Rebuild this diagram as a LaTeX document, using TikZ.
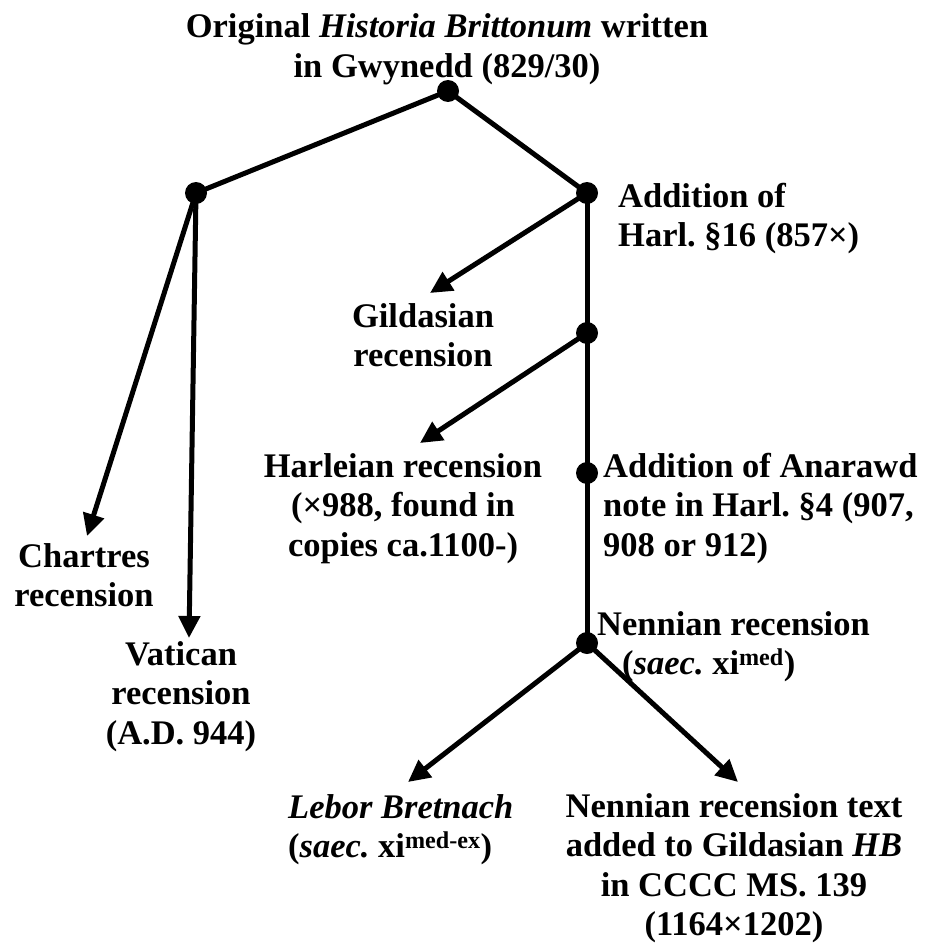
\documentclass[tikz,border=0pt]{standalone}
\usepackage{fontspec}
\setmainfont{Liberation Serif}
\usetikzlibrary{arrows.meta}
\frenchspacing
\newcommand\ctrlines[1]{\vtop{\halign{\hfil##\hfil\cr#1\crcr}}}
\newcommand\lftlines[1]{\vtop{\halign{##\hfil\cr#1\crcr}}}
\tikzset{
  lbl/.style={inner sep=0pt, font=\fontsize{34.5}{39.5}\selectfont\bfseries\frenchspacing},
  dot/.style={circle, fill=black, inner sep=0pt, minimum size=22pt},
  link/.style={line width=5pt, line cap=round},
  arr/.style={line width=5pt, -{Triangle[length=22pt,width=21pt]}},
}
\begin{document}
\begin{tikzpicture}[x=1pt,y=-1pt]
\useasboundingbox (0,0) rectangle (935,947);
% dots
\node[dot] (root) at (448,91) {};
\node[dot] (L) at (196,193) {};
\node[dot] (R) at (587,193) {};
\node[dot] (G) at (587,333) {};
\node[dot] (A) at (587,473) {};
\node[dot] (N) at (587,643) {};
% arrow ends
\coordinate (tChartres) at (87,536);
\coordinate (tVatican) at (189,638);
\coordinate (tGildas) at (430,293);
\coordinate (tHarl) at (420,443);
\coordinate (tLebor) at (408,782);
\coordinate (tCCCC) at (738,782);
% links
\draw[link] (L.center) -- (root.center) -- (R.center);
\draw[link] (R.center) -- (G.center) -- (A.center) -- (N.center);
\draw[arr] (L.center) -- (tChartres);
\draw[arr] (L.center) -- (tVatican);
\draw[arr] (R.center) -- (tGildas);
\draw[arr] (G.center) -- (tHarl);
\draw[arr] (N.center) -- (tLebor);
\draw[arr] (N.center) -- (tCCCC);
% labels
\node[lbl, anchor=base] (title) at (447,38) {\ctrlines{Original \textit{Historia Brittonum} written\cr in Gwynedd (829/30)}};
\node[lbl, anchor=base west] (addH) at (618,207) {\lftlines{Addition of\cr Harl. §16 (857×)}};
\node[lbl, anchor=base] (gild) at (423,327) {\ctrlines{Gildasian\cr recension}};
\node[lbl, anchor=base] (harl) at (403,477) {\ctrlines{Harleian recension\cr (×988, found in\cr copies ca.1100-)}};
\node[lbl, anchor=base west] (anar) at (603,477) {\lftlines{Addition of Anarawd\cr note in Harl. §4 (907,\cr 908 or 912)}};
\node[lbl, anchor=base] (chart) at (84,567) {\ctrlines{Chartres\cr recension}};
\node[lbl, anchor=base] (vat) at (181,665) {\ctrlines{Vatican\cr recension\cr (A.D. 944)}};
\node[lbl, anchor=base west] (nenn) at (597,635) {\lftlines{Nennian recension\cr \hspace*{25pt}(\textit{saec.} xi\textsuperscript{med})}};
\node[lbl, anchor=base west] (lebor) at (288,818) {\lftlines{\textit{Lebor Bretnach}\cr (\textit{saec.} xi\textsuperscript{med-ex})}};
\node[lbl, anchor=base] (cccc) at (734,817) {\ctrlines{Nennian recension text\cr added to Gildasian \textit{HB}\cr in CCCC MS. 139\cr (1164×1202)}};
\end{tikzpicture}
\end{document}
